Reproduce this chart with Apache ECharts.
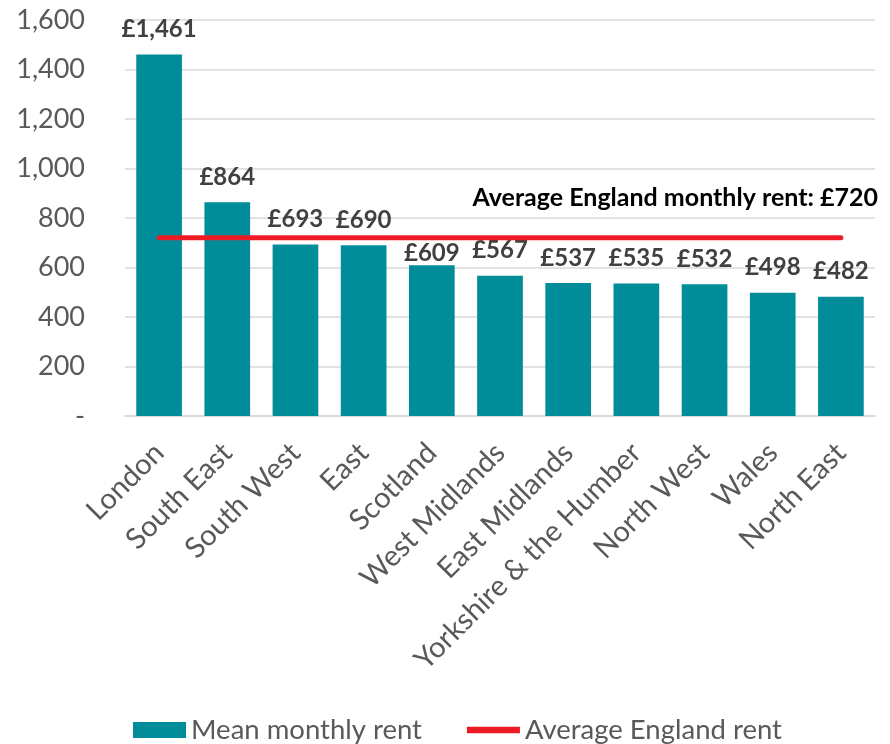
<!DOCTYPE html>
<html>
<head>
<meta charset="utf-8">
<script src="https://cdn.jsdelivr.net/npm/echarts@6/dist/echarts.min.js"></script>
<style>
  html, body { margin: 0; padding: 0; background: #fff; }
  #rent { width: 890px; height: 744px; }
</style>
</head>
<body>
<div id="rent"></div>
<script>
const chart = echarts.init(document.getElementById('rent'))

// regions, sorted by mean rent
var regions = ['London', 'South East', 'South West', 'East', 'Scotland', 'West Midlands',
    'East Midlands', 'Yorkshire & the Humber', 'North West', 'Wales', 'North East']
var meanRent = [1461, 864, 693, 690, 609, 567, 537, 535, 532, 498, 482]
var englandAvg = [720, 720, 720, 720, 720, 720, 720, 720, 720, 720, 720]
var yTicks = [0, 200, 400, 600, 800, 1000, 1200, 1400, 1600]

var font = 'Lato'

// the Scotland label sits lower, tucked under the red line
var barData = meanRent.map(function (v, i) {
    if (regions[i] === 'Scotland') return { value: v, label: { distance: 0 } }
    return v
})

chart.setOption({
    textStyle: { fontFamily: font },
    grid: { left: 125, right: 15, top: 20, bottom: 328 },
    legend: {
        top: 711,
        left: 128,
        itemWidth: 53,
        itemHeight: 16,
        itemGap: 45,
        textStyle: { fontSize: 27.5, color: '#595959', fontFamily: font },
        data: [
            { name: 'Mean monthly rent', icon: 'rect' },
            { name: 'Average England rent', icon: 'path://M0,0H56V7H0Z' }
        ]
    },
    xAxis: {
        type: 'category',
        data: regions,
        axisTick: { show: false },
        axisLine: { lineStyle: { color: '#d9d9d9', width: 1.5 } },
        axisLabel: {
            rotate: 45,
            interval: 0,
            fontSize: 29,
            color: '#595959',
            margin: 32
        }
    },
    yAxis: {
        type: 'value',
        min: yTicks[0],
        max: yTicks[yTicks.length - 1],
        interval: 200,
        axisLine: { show: false },
        axisTick: { show: false },
        splitLine: { lineStyle: { color: '#d9d9d9', width: 1.5 } },
        axisLabel: {
            fontSize: 27,
            color: '#595959',
            margin: 40,
            formatter: function (v) {
                return v === 0 ? '-' : v.toLocaleString('en-GB')
            }
        }
    },
    series: [
        {
            name: 'Mean monthly rent',
            type: 'bar',
            data: barData,
            barWidth: '67%',
            itemStyle: { color: '#008C99' },
            label: {
                show: true,
                position: 'top',
                distance: 13,
                fontSize: 24,
                fontWeight: 'bold',
                color: '#404040',
                formatter: function (p) {
                    return '£' + p.value.toLocaleString('en-GB')
                }
            }
        },
        {
            name: 'Average England rent',
            type: 'line',
            data: englandAvg,
            symbol: 'none',
            z: 5,
            lineStyle: { color: '#ED1C24', width: 5, cap: 'round' },
            itemStyle: { color: '#ED1C24' }
        }
    ],
    graphic: [
        {
            type: 'text',
            right: 12,
            top: 185,
            style: {
                text: 'Average England monthly rent: £720',
                font: 'bold 25px ' + font,
                fill: '#000'
            }
        }
    ]
})
</script>
</body>
</html>
